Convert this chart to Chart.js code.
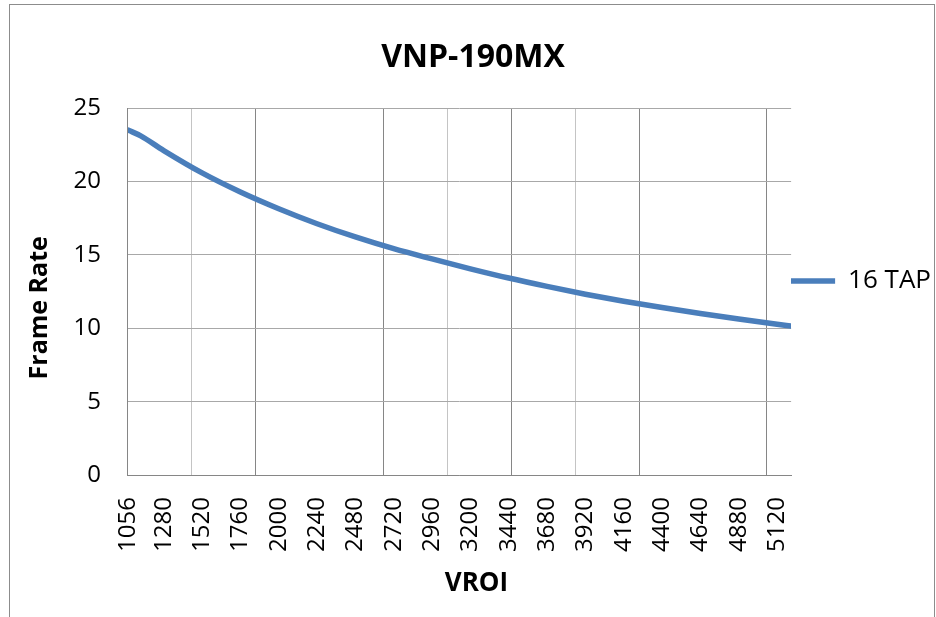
<!DOCTYPE html>
<html>
<head>
<meta charset="utf-8">
<script src="https://cdn.jsdelivr.net/npm/chart.js@4.4.1/dist/chart.umd.min.js"></script>
<style>
html,body{margin:0;padding:0;background:#fff;}
#wrap{width:936px;height:617px;position:relative;}
</style>
</head>
<body>
<div id="wrap"><canvas id="c" width="936" height="617"></canvas></div>
<script>
// ---- data ----
const chartTitle = 'VNP-190MX';
const seriesName = '16 TAP';
const xAxisTitle = 'VROI';
const yAxisTitle = 'Frame Rate';

const xTickLabels = [1056, 1280, 1520, 1760, 2000, 2240, 2480, 2720, 2960, 3200,
                     3440, 3680, 3920, 4160, 4400, 4640, 4880, 5120];
const yTickValues = [0, 5, 10, 15, 20, 25];
const xGridValues = [1456, 1856, 2656, 3056, 3456, 3856, 4256, 5056];

const vroi      = [1056, 1136, 1280, 1520, 1760, 2000, 2240, 2480, 2720, 2960, 3200,
                   3440, 3680, 3920, 4160, 4400, 4640, 4880, 5120, 5208];
const frameRate = [23.5, 23.1, 22.1, 20.58, 19.28, 18.14, 17.12, 16.22, 15.42, 14.72, 14.05,
                   13.42, 12.85, 12.32, 11.84, 11.41, 11.01, 10.63, 10.27, 10.15];

// ---- styles ----
const FONT = 'Open Sans';
const xMin = vroi[0];
const xMax = vroi[vroi.length - 1];
const gridStrong = '#868686';
const gridLight = '#c4c4c4';
const xGridStyle = ['light', 'strong', 'strong', 'light', 'strong', 'light', 'strong', 'strong'];

const framePlugin = {
  id: 'frame',
  beforeDraw(chart) {
    const ctx = chart.ctx;
    ctx.save();
    ctx.fillStyle = '#ffffff';
    ctx.fillRect(0, 0, chart.width, chart.height);
    ctx.strokeStyle = '#8c8c8c';
    ctx.lineWidth = 1;
    ctx.strokeRect(9.5, 4.5, 925, 640);
    ctx.restore();
  }
};

const points = vroi.map((v, i) => ({x: v, y: frameRate[i]}));

new Chart(document.getElementById('c'), {
  type: 'line',
  data: {
    datasets: [{
      label: seriesName,
      data: points,
      borderColor: '#4a7ebb',
      backgroundColor: '#4a7ebb',
      borderWidth: 5.5,
      borderCapStyle: 'round',
      pointRadius: 0,
      pointHoverRadius: 0,
      cubicInterpolationMode: 'monotone',
      fill: false
    }]
  },
  options: {
    responsive: false,
    animation: false,
    devicePixelRatio: 1,
    layout: {padding: {left: 5, right: -5, top: 5, bottom: 5}},
    plugins: {
      title: {
        display: true,
        text: chartTitle,
        color: '#000',
        font: {family: FONT, size: 32, weight: 'bold'},
        padding: {top: 33.8, bottom: 30.8}
      },
      legend: {
        position: 'right',
        align: 'center',
        title: {display: true, text: '', font: {size: 10}, padding: {top: -67, bottom: 0}},
        labels: {
          usePointStyle: true,
          pointStyle: 'line',
          pointStyleWidth: 50,
          padding: -6,
          color: '#000',
          font: {family: FONT, size: 26}
        }
      },
      tooltip: {enabled: false}
    },
    scales: {
      x: {
        type: 'linear',
        position: 'bottom',
        min: xMin,
        max: xMax,
        afterBuildTicks: axis => { axis.ticks = xTickLabels.map(v => ({value: v})); },
        grid: {display: false, drawTicks: false},
        border: {display: true, color: gridStrong, width: 1},
        ticks: {
          autoSkip: false,
          minRotation: 90,
          maxRotation: 90,
          padding: 22,
          color: '#000',
          font: {family: FONT, size: 24},
          callback: v => String(v)
        },
        title: {
          display: true,
          text: '     ' + xAxisTitle,
          color: '#000',
          font: {family: FONT, size: 26, weight: 'bold'},
          padding: {top: -5.6, bottom: 12.4}
        }
      },
      xg: {
        type: 'linear',
        position: 'top',
        min: xMin,
        max: xMax,
        afterBuildTicks: axis => { axis.ticks = xGridValues.map(v => ({value: v})); },
        grid: {
          display: true,
          drawTicks: false,
          lineWidth: 1,
          color: c => (xGridStyle[c.index] === 'strong' ? gridStrong : gridLight)
        },
        border: {display: false},
        ticks: {display: false}
      },
      y: {
        type: 'linear',
        min: 0,
        max: 25,
        afterBuildTicks: axis => { axis.ticks = yTickValues.map(v => ({value: v})); },
        grid: {color: '#a8a8a8', lineWidth: 1, drawTicks: false},
        border: {display: true, color: gridStrong, width: 1},
        ticks: {
          padding: 27,
          color: '#000',
          font: {family: FONT, size: 24}
        },
        title: {
          display: true,
          text: yAxisTitle + '     ',
          color: '#000',
          font: {family: FONT, size: 25, weight: 'bold'},
          padding: {top: 20, bottom: -8.5}
        }
      }
    }
  },
  plugins: [framePlugin]
});
</script>
</body>
</html>
